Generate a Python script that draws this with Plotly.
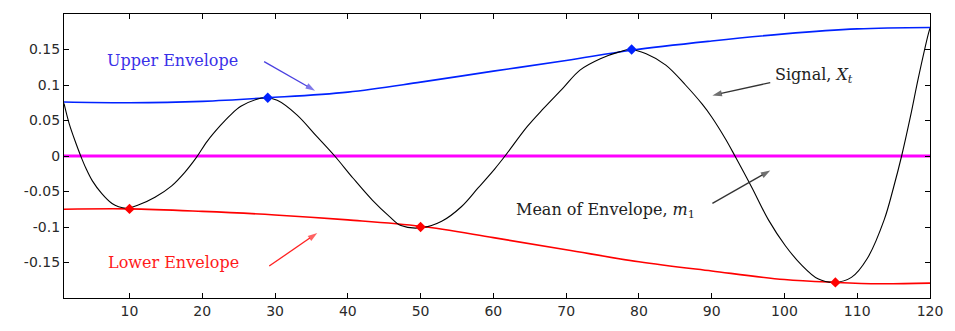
import plotly.graph_objects as go

# Signal samples (x, value)
sig_x = [1, 1.7, 2.6, 3.3, 4.0, 4.9, 6.2, 7.6, 8.5, 9.6, 11.2, 13.5, 15.8, 17.6, 19.2,
         20.7, 22.5, 23.9, 25.3, 27.5, 28.7, 30.3, 33.0, 35.7, 38.2, 40.7, 43.4, 45.7,
         47.3, 50.2, 52.9, 55.6, 57.9, 60.2, 61.6, 64.7, 66.9, 69.6, 71.9, 74.7, 77.4,
         78.8, 81.0, 83.7, 86.4, 88.7, 90.0, 91.9, 93.2, 95.5, 97.8, 100.1, 102.3, 104.6,
         106.9, 109.2, 111.4, 113.7, 115.0, 116.1, 117.3, 118.4, 119.8, 120]
sig_y = [0.074, 0.046, 0.019, 0.0, -0.017, -0.035, -0.053, -0.067, -0.0715, -0.0735,
         -0.069, -0.058, -0.042, -0.023, -0.002, 0.021, 0.043, 0.058, 0.070, 0.080, 0.082,
         0.0785, 0.058, 0.028, 0.0, -0.031, -0.0625, -0.085, -0.098, -0.101, -0.092,
         -0.0715, -0.045, -0.018, 0.0, 0.042, 0.067, 0.096, 0.121, 0.137, 0.147, 0.150,
         0.144, 0.128, 0.100, 0.073, 0.055, 0.024, 0.0, -0.044, -0.09, -0.126, -0.153,
         -0.173, -0.178, -0.171, -0.144, -0.090, -0.044, 0.0, 0.055, 0.11, 0.173, 0.18]

# Upper envelope (spline through maxima)
up_x = [1, 10, 20, 29, 40, 50, 60, 70, 79, 90, 100, 110, 120]
up_y = [0.076, 0.075, 0.077, 0.082, 0.090, 0.104, 0.1195, 0.1345, 0.149, 0.162, 0.172, 0.179, 0.181]

# Lower envelope (spline through minima)
lo_x = [1, 10, 20, 30, 40, 50, 60, 70, 80, 90, 100, 107, 113, 120]
lo_y = [-0.075, -0.0745, -0.078, -0.083, -0.090, -0.099, -0.115, -0.132, -0.149,
        -0.162, -0.174, -0.178, -0.180, -0.179]

# Extrema markers
max_x = [29, 79]
max_y = [0.082, 0.150]
min_x = [10, 50, 107]
min_y = [-0.0745, -0.100, -0.178]

# Mean of envelopes shown as zero line
mean_x = [1, 120]
mean_y = [0, 0]

x_ticks = [10, 20, 30, 40, 50, 60, 70, 80, 90, 100, 110, 120]
y_ticks = [-0.15, -0.1, -0.05, 0, 0.05, 0.1, 0.15]
y_tick_text = ["-0.15", "-0.1", "-0.05", "0", "0.05", "0.1", "0.15"]

fig = go.Figure()
fig.add_trace(go.Scatter(x=mean_x, y=mean_y, mode="lines",
                         line=dict(color="#ff00ff", width=3.2)))
fig.add_trace(go.Scatter(x=up_x, y=up_y, mode="lines", line_shape="spline",
                         line=dict(color="#0022ff", width=1.6)))
fig.add_trace(go.Scatter(x=lo_x, y=lo_y, mode="lines", line_shape="spline",
                         line=dict(color="#ff0000", width=1.6)))
fig.add_trace(go.Scatter(x=sig_x, y=sig_y, mode="lines", line_shape="spline",
                         line=dict(color="black", width=1.1)))
fig.add_trace(go.Scatter(x=max_x, y=max_y, mode="markers",
                         marker=dict(symbol="diamond", size=8, color="#0022ff")))
fig.add_trace(go.Scatter(x=min_x, y=min_y, mode="markers",
                         marker=dict(symbol="diamond", size=8, color="#ff0000")))

# Pointer arrows: (tail x, tail y, head x, head y, colour)
arrows = [
    (28.5, 0.133, 35.5, 0.092, "#4a40e0"),
    (29.2, -0.155, 35.8, -0.1084, "#ff2020"),
    (98.05, 0.1034, 90.1, 0.0853, "#333333"),
    (90.1, -0.0667, 98.05, -0.0204, "#333333"),
]
for tx, ty, hx, hy, c in arrows:
    fig.add_trace(go.Scatter(
        x=[tx, hx], y=[ty, hy], mode="lines+markers",
        line=dict(color=c, width=1.3),
        marker=dict(symbol=["circle", "arrow"], size=[0, 10], angleref="previous",
                    color=c, line=dict(width=0)),
    ))

serif = "DejaVu Serif"
ann = [
    dict(x=15.9, y=0.1347, text="Upper Envelope",
         font=dict(family=serif, size=16, color="#3a30e8")),
    dict(x=16.1, y=-0.1506, text="Lower Envelope",
         font=dict(family=serif, size=16, color="#ff1a1a")),
    dict(x=104.1, y=0.113, text="Signal, <i>X</i><sub><i>t</i></sub>",
         font=dict(family=serif, size=16, color="#222222")),
    dict(x=75.4, y=-0.0771, text="Mean of Envelope, <i>m</i><sub>1</sub>",
         font=dict(family=serif, size=16, color="#222222")),
]
for a in ann:
    a.update(xref="x", yref="y", showarrow=False)

fig.update_layout(
    width=955, height=331,
    margin=dict(l=64, r=15, t=14, b=23),
    paper_bgcolor="white", plot_bgcolor="white",
    showlegend=False,
    annotations=ann,
    font=dict(family="DejaVu Sans", size=14, color="#2a2a2a"),
)
fig.update_xaxes(range=[1, 120], tickvals=x_ticks, ticks="inside", ticklen=5,
                 tickcolor="black", showline=True, linecolor="black", linewidth=1.2,
                 mirror="ticks", showgrid=False, zeroline=False,
                 tickfont=dict(family="DejaVu Sans", size=14, color="#2a2a2a"))
fig.update_yaxes(range=[-0.2, 0.2], tickvals=y_ticks, ticktext=y_tick_text, ticks="inside",
                 ticklen=5, tickcolor="black", showline=True, linecolor="black",
                 linewidth=1.2, mirror="ticks", showgrid=False, zeroline=False,
                 tickfont=dict(family="DejaVu Sans", size=14, color="#2a2a2a"))

fig.write_html("out.html")
